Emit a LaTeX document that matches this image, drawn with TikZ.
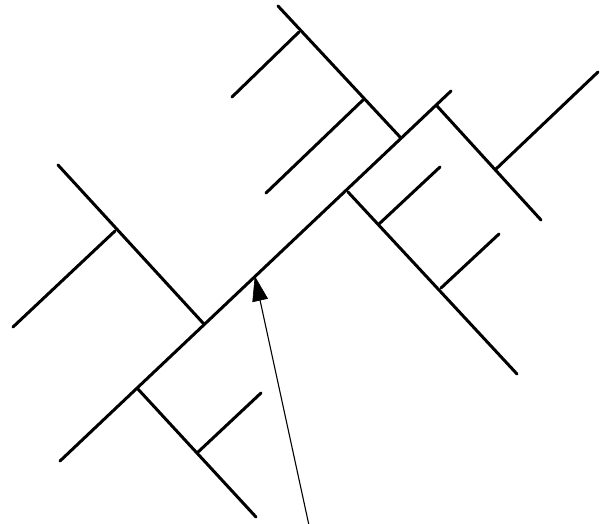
\documentclass[tikz,border=0pt]{standalone}
\usetikzlibrary{arrows.meta}
\begin{document}
\begin{tikzpicture}[x=1pt,y=-1pt,
  seg/.style={line width=3pt,line cap=round,black},
  pointer/.style={line width=1.1pt,black},
  pointerhead/.style={fill=black,draw=black,line width=0.6pt,line join=miter}]
\useasboundingbox (0,0) rectangle (607,523);
% trunk
\coordinate (t0) at (60,461);
\coordinate (t1) at (451,91);
\coordinate (j1) at (203,323);
\coordinate (j2) at (137,388);
\coordinate (j3) at (400,137);
\coordinate (j4) at (348,192);
\coordinate (j5) at (437,106);
% branch ends
\coordinate (e1) at (58,165);
\coordinate (k1) at (115,231);
\coordinate (e1a) at (13,327);
\coordinate (e2) at (256,517);
\coordinate (k2) at (197,453);
\coordinate (e2a) at (261,393);
\coordinate (e3) at (278,6);
\coordinate (k3) at (299,32);
\coordinate (e3a) at (232,97);
\coordinate (k3b) at (363,100);
\coordinate (e3b) at (266,193);
\coordinate (e4) at (517,374);
\coordinate (k4) at (379,224);
\coordinate (e4a) at (440,167);
\coordinate (k4b) at (441,288);
\coordinate (e4b) at (499,234);
\coordinate (e5) at (541,220);
\coordinate (k5) at (496,169);
\coordinate (e5a) at (598,72);
% pointer
\coordinate (tail) at (310,530);
\coordinate (tip) at (255,277);
\coordinate (hb) at (260,300);
\coordinate (hb1) at (267.5,298.5);
\coordinate (hb2) at (252.7,301.8);
\draw[seg] (t0) -- (t1);
\draw[seg] (j1) -- (e1);
\draw[seg] (k1) -- (e1a);
\draw[seg] (j2) -- (e2);
\draw[seg] (k2) -- (e2a);
\draw[seg] (j3) -- (e3);
\draw[seg] (k3) -- (e3a);
\draw[seg] (k3b) -- (e3b);
\draw[seg] (j4) -- (e4);
\draw[seg] (k4) -- (e4a);
\draw[seg] (k4b) -- (e4b);
\draw[seg] (j5) -- (e5);
\draw[seg] (k5) -- (e5a);
\draw[pointer] (tail) -- (hb);
\filldraw[pointerhead] (tip) -- (hb1) -- (hb2) -- cycle;
\end{tikzpicture}
\end{document}
